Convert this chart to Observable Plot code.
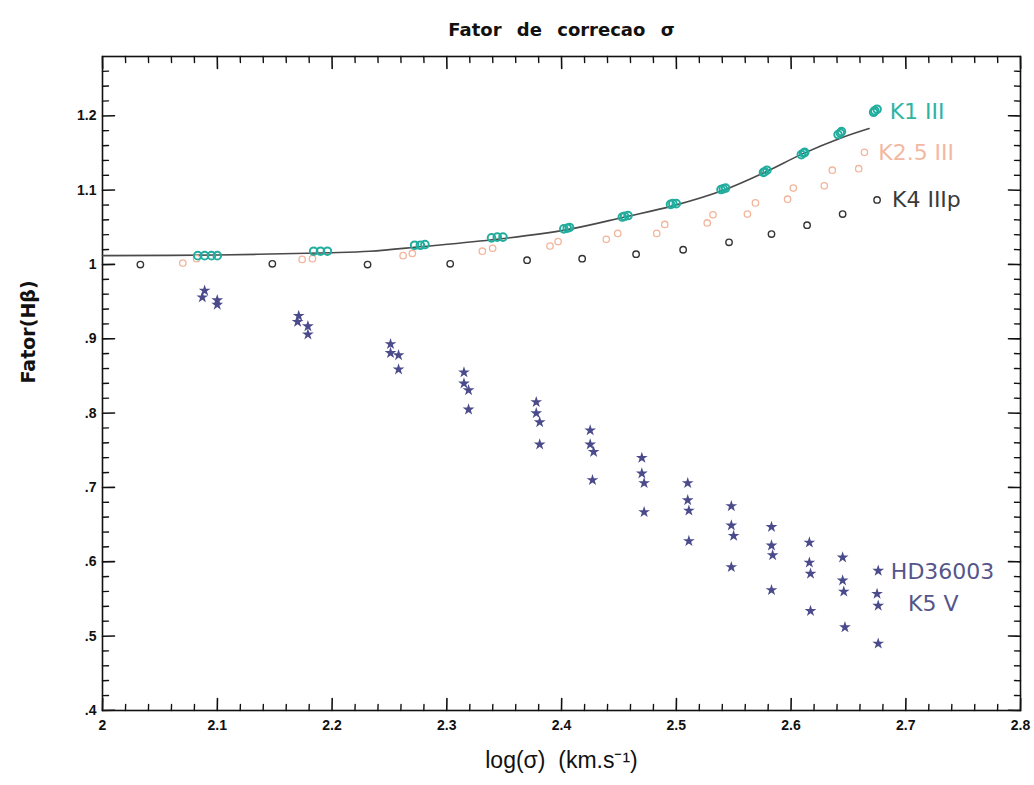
<!DOCTYPE html>
<html>
<head>
<meta charset="utf-8">
<script src="https://cdn.jsdelivr.net/npm/d3@7"></script>
<script src="https://cdn.jsdelivr.net/npm/@observablehq/plot@0.6"></script>
<style>
  body { margin: 0; background: #fff; }
  #chart svg { display: block; }
</style>
</head>
<body>
<div id="chart"></div>
<script>
// ---- K1 III (teal circles) ----
const k1X = [2.083,2.089,2.095,2.100, 2.184,2.190,2.196, 2.272,2.277,2.281, 2.339,2.344,2.349,
             2.402,2.405,2.407, 2.453,2.455,2.458, 2.495,2.497,2.500, 2.539,2.541,2.543,
             2.576,2.577,2.579, 2.609,2.611,2.612, 2.641,2.643,2.644, 2.672,2.673,2.675];
const k1Y = [1.012,1.012,1.012,1.012, 1.018,1.018,1.018, 1.026,1.026,1.027, 1.036,1.037,1.037,
             1.048,1.049,1.050, 1.064,1.065,1.066, 1.081,1.082,1.082, 1.101,1.102,1.103,
             1.124,1.125,1.127, 1.148,1.150,1.151, 1.175,1.177,1.179, 1.205,1.207,1.209];

// ---- K2.5 III (peach circles) ----
const k25X = [2.070,2.082, 2.174,2.183, 2.262,2.270, 2.331,2.340, 2.390,2.397, 2.439,2.449,
              2.483,2.490, 2.527,2.532, 2.562,2.569, 2.597,2.602, 2.629,2.636, 2.659,2.664];
const k25Y = [1.002,1.008, 1.007,1.008, 1.012,1.015, 1.018,1.022, 1.025,1.031, 1.034,1.042,
              1.042,1.054, 1.056,1.067, 1.068,1.083, 1.088,1.103, 1.106,1.127, 1.129,1.151];

// ---- K4 IIIp (black circles) ----
const k4X = [2.033,2.148,2.231,2.303,2.370,2.418,2.465,2.506,2.546,2.583,2.614,2.645,2.675];
const k4Y = [1.000,1.001,1.000,1.001,1.006,1.008,1.014,1.020,1.030,1.041,1.053,1.068,1.087];

// ---- fitted curve ----
const fitX = [2.000,2.100,2.200,2.233,2.277,2.344,2.405,2.455,2.497,2.541,2.577,2.610,2.643,2.668];
const fitY = [1.012,1.013,1.016,1.018,1.024,1.034,1.047,1.064,1.079,1.100,1.124,1.149,1.170,1.183];

// ---- HD36003 / K5 V (stars) ----
const starX = [2.089,2.087,2.100,2.100, 2.171,2.170,2.179,2.179, 2.251,2.251,2.258,2.258,
               2.315,2.315,2.319,2.319, 2.378,2.378,2.381,2.381, 2.425,2.425,2.428,2.427,
               2.470,2.470,2.472,2.472, 2.510,2.510,2.511,2.511, 2.548,2.548,2.550,2.548,
               2.583,2.583,2.584,2.583, 2.616,2.616,2.617,2.617, 2.645,2.645,2.646,2.647,
               2.676,2.675,2.676,2.676];
const starY = [0.965,0.956,0.952,0.946, 0.931,0.923,0.917,0.906, 0.893,0.881,0.878,0.859,
               0.855,0.840,0.831,0.805, 0.815,0.800,0.788,0.758, 0.777,0.758,0.748,0.710,
               0.740,0.719,0.706,0.667, 0.706,0.683,0.669,0.628, 0.675,0.649,0.635,0.593,
               0.647,0.622,0.609,0.562, 0.626,0.599,0.584,0.534, 0.606,0.575,0.560,0.512,
               0.588,0.557,0.541,0.490];

// ---- series labels (anchored in data coordinates) ----
const labelText = ["K1 III", "K2.5 III", "K4 IIIp", "HD36003", "K5 V"];
const labelX = [2.686, 2.676, 2.688, 2.687, 2.702];
const labelY = [1.205, 1.150, 1.087, 0.587, 0.544];

// ---- ticks ----
const xTicks = [2, 2.1, 2.2, 2.3, 2.4, 2.5, 2.6, 2.7, 2.8];
const xTickLabels = ["2", "2.1", "2.2", "2.3", "2.4", "2.5", "2.6", "2.7", "2.8"];
const yTicks = [0.4, 0.5, 0.6, 0.7, 0.8, 0.9, 1.0, 1.1, 1.2];
const yTickLabels = [".4", ".5", ".6", ".7", ".8", ".9", "1", "1.1", "1.2"];
const xMinor = [2.02,2.04,2.06,2.08, 2.12,2.14,2.16,2.18, 2.22,2.24,2.26,2.28, 2.32,2.34,2.36,2.38,
                2.42,2.44,2.46,2.48, 2.52,2.54,2.56,2.58, 2.62,2.64,2.66,2.68, 2.72,2.74,2.76,2.78];
const yMinor = [0.42,0.44,0.46,0.48, 0.52,0.54,0.56,0.58, 0.62,0.64,0.66,0.68, 0.72,0.74,0.76,0.78,
                0.82,0.84,0.86,0.88, 0.92,0.94,0.96,0.98, 1.02,1.04,1.06,1.08, 1.12,1.14,1.16,1.18,
                1.22,1.24,1.26];

// ---- styles ----
const labelColors = {"K1 III": "#2eb3a4", "K2.5 III": "#f2b9a2", "K4 IIIp": "#3a3a3a", "HD36003": "#55558a", "K5 V": "#55558a"};

const rows = (xs, ys) => xs.map((x, i) => ({x, y: ys[i]}));
const k1 = rows(k1X, k1Y), k25 = rows(k25X, k25Y), k4 = rows(k4X, k4Y);
const fit = rows(fitX, fitY), stars = rows(starX, starY);
const labels = labelText.map((t, i) => ({text: t, x: labelX[i], y: labelY[i], color: labelColors[t]}));

const fmtX = d => xTickLabels[xTicks.findIndex(t => Math.abs(t - d) < 1e-9)];
const fmtY = d => yTickLabels[yTicks.findIndex(t => Math.abs(t - d) < 1e-9)];

const W = 1034, H = 785, ML = 102, MR = 14, MT = 56, MB = 75;
const xDom = [2, 2.8], yDom = [0.4, 1.28];
const pxX = (xDom[1] - xDom[0]) / (W - ML - MR);   // data units per pixel
const pxY = (yDom[1] - yDom[0]) / (H - MT - MB);

// inward tick marks: each tick is a two-point line series (drawn with Plot.line, grouped by z)
let tickId = 0;
const tickSegments = (values, side, len) => values.flatMap(v => {
  const id = tickId++;
  const e = 0.2; // sub-pixel skew
  if (side === "bottom") return [{x: v, y: yDom[0], id}, {x: v + e * pxX, y: yDom[0] + len * pxY, id}];
  if (side === "top") return [{x: v, y: yDom[1], id}, {x: v + e * pxX, y: yDom[1] - len * pxY, id}];
  if (side === "left") return [{x: xDom[0], y: v, id}, {x: xDom[0] + len * pxX, y: v + e * pxY, id}];
  return [{x: xDom[1], y: v, id}, {x: xDom[1] - len * pxX, y: v + e * pxY, id}];
});
const majorTicks = [
  ...tickSegments(xTicks, "bottom", 12), ...tickSegments(xTicks, "top", 12),
  ...tickSegments(yTicks, "left", 12), ...tickSegments(yTicks, "right", 12)
];
const minorTicks = [
  ...tickSegments(xMinor, "bottom", 6), ...tickSegments(xMinor, "top", 6),
  ...tickSegments(yMinor, "left", 6), ...tickSegments(yMinor, "right", 6)
];

const chart = Plot.plot({
  width: W,
  height: H,
  marginLeft: ML,
  marginRight: MR,
  marginTop: MT,
  marginBottom: MB,
  style: {fontFamily: "'Liberation Sans', Arial, sans-serif", background: "#fff", color: "#111"},
  x: {domain: xDom, axis: null},
  y: {domain: yDom, axis: null},
  marks: [
    Plot.frame({stroke: "#111", strokeWidth: 1.6}),
    // inward ticks on all four sides
    Plot.line(majorTicks, {x: "x", y: "y", z: "id", stroke: "#111", strokeWidth: 1.6}),
    Plot.line(minorTicks, {x: "x", y: "y", z: "id", stroke: "#111", strokeWidth: 1.4}),
    // tick labels
    Plot.axisX(xTicks, {anchor: "bottom", tickSize: 0, tickPadding: 10, tickFormat: fmtX,
      fontSize: 14, fontWeight: "bold", label: null}),
    Plot.axisY(yTicks, {anchor: "left", tickSize: 0, tickPadding: 6, tickFormat: fmtY,
      fontSize: 14, fontWeight: "bold", label: null}),
    // data
    Plot.line(fit, {x: "x", y: "y", stroke: "#4a4a4a", strokeWidth: 1.6, curve: "catmull-rom"}),
    Plot.dot(k4, {x: "x", y: "y", r: 3.2, stroke: "#333", strokeWidth: 1.4, fill: "none"}),
    Plot.dot(k25, {x: "x", y: "y", r: 3.2, stroke: "#f2b59c", strokeWidth: 1.3, fill: "none"}),
    Plot.dot(k1, {x: "x", y: "y", r: 3.8, stroke: "#22ad9e", strokeWidth: 2, fill: "none"}),
    Plot.dot(stars, {x: "x", y: "y", symbol: "star", r: 3.7, fill: "#4b4b8c", stroke: "none"}),
    // series labels
    Plot.text(labels, {x: "x", y: "y", text: "text", fill: d => d.color, textAnchor: "start",
      fontSize: 22, fontFamily: "'DejaVu Sans', sans-serif"}),
    // titles
    Plot.text(["Fator de correcao σ"], {frameAnchor: "top", dy: -33, fontSize: 18,
      fontWeight: "bold", fontFamily: "'DejaVu Sans', sans-serif", fill: "#111"}),
    Plot.text(["Fator(Hβ)"], {frameAnchor: "left", rotate: -90, dx: -74, fontSize: 19,
      fontWeight: "bold", fontFamily: "'DejaVu Sans', sans-serif", fill: "#111"}),
    Plot.text(["log(σ)  (km.s⁻¹)"], {frameAnchor: "bottom", dy: 57, fontSize: 23,
      fontFamily: "'Liberation Sans', Arial, sans-serif", fill: "#111"})
  ],
  color: {type: "identity"}
});

document.getElementById("chart").appendChild(chart);
const svg = d3.select(chart);
svg.selectAll("text")
  .filter(function() { return this.textContent === "Fator de correcao σ"; })
  .style("word-spacing", "9px");
svg.selectAll("text")
  .filter(function() { return this.textContent === "log(σ)  (km.s⁻¹)"; })
  .style("white-space", "pre");
</script>
</body>
</html>
